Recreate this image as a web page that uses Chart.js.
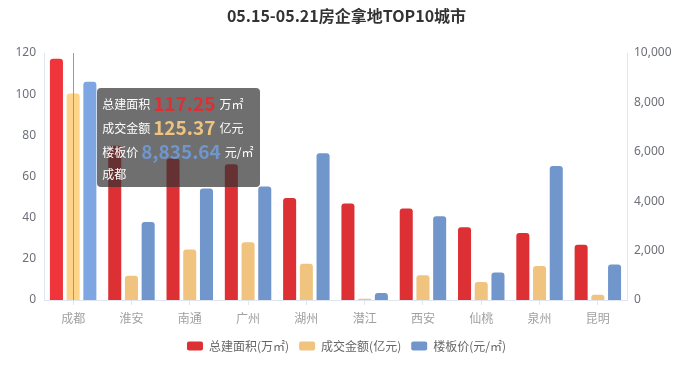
<!DOCTYPE html>
<html>
<head>
<meta charset="utf-8">
<script src="https://cdn.jsdelivr.net/npm/chart.js@4.4.1/dist/chart.umd.min.js"></script>
<style>
  html, body { margin: 0; padding: 0; background: #fff; }
  #wrap { position: relative; width: 693px; height: 366px; }
  #tip {
    position: absolute; z-index: 10; pointer-events: none; opacity: 0;
    background: rgba(50, 50, 50, 0.7); border-radius: 4px;
    color: #fff; font-family: "Noto Sans CJK SC", sans-serif; font-size: 12px;
    padding: 3px 6px 4px 5px; white-space: nowrap;
  }
  #tip .row { display: flex; align-items: center; height: 24px; overflow: visible; }
  #tip .row.last { height: 20px; }
  #tip b { font-size: 19px; font-weight: bold; margin: 0 4px 0 3px; line-height: 24px; }
</style>
</head>
<body>
<div id="wrap">
  <canvas id="chart" width="693" height="366"></canvas>
  <div id="tip"></div>
</div>
<script>
const cities = ['成都', '淮安', '南通', '广州', '湖州', '潜江', '西安', '仙桃', '泉州', '昆明'];
// 总建面积 (万㎡)
const area = [117.25, 74.9, 68.8, 66.0, 49.6, 46.9, 44.4, 35.3, 32.5, 26.8];
// 成交金额 (亿元)
const amount = [125.37, 14.7, 30.6, 35.1, 22.0, 0.8, 15.1, 11.0, 20.6, 3.2];
// 楼板价 (元/㎡)
const price = [8835.64, 3155, 4518, 4600, 5946, 286, 3388, 1115, 5429, 1442];

const leftTicks = [0, 20, 40, 60, 80, 100, 120];
const rightTicks = [0, 2000, 4000, 6000, 8000, 10000];

const RED = '#dc3035', ORANGE = '#f0c47f', BLUE = '#7196cc';
const fmt2 = v => v.toLocaleString('en-US', { minimumFractionDigits: 2, maximumFractionDigits: 2 });

// vertical axis pointer on the active category
const pointerLine = {
  id: 'pointerLine',
  afterDatasetsDraw(chart) {
    const act = chart.getActiveElements();
    if (!act.length) return;
    const x = Math.round(chart.scales.x.getPixelForValue(act[0].index)) + 0.5;
    const ctx = chart.ctx;
    ctx.save();
    ctx.strokeStyle = '#9a9a9a';
    ctx.lineWidth = 1;
    ctx.beginPath();
    ctx.moveTo(x, chart.chartArea.top);
    ctx.lineTo(x, chart.chartArea.bottom);
    ctx.stroke();
    ctx.restore();
  }
};

function externalTip(context) {
  const { chart, tooltip } = context;
  const el = document.getElementById('tip');
  if (tooltip.opacity === 0 || !tooltip.dataPoints || !tooltip.dataPoints.length) {
    el.style.opacity = 0;
    return;
  }
  const i = tooltip.dataPoints[0].dataIndex;
  el.innerHTML =
    '<div class="row">总建面积<b style="color:' + RED + '">' + fmt2(area[i]) + '</b>万㎡</div>' +
    '<div class="row">成交金额<b style="color:' + ORANGE + '">' + fmt2(amount[i]) + '</b>亿元</div>' +
    '<div class="row">楼板价<b style="color:' + BLUE + '">' + fmt2(price[i]) + '</b>元/㎡</div>' +
    '<div class="row last">' + cities[i] + '</div>';
  el.style.left = (chart.scales.x.getPixelForValue(i) + 24) + 'px';
  el.style.top = (chart.chartArea.top + 35) + 'px';
  el.style.opacity = 1;
}

const barStyle = {
  borderRadius: { topLeft: 3, topRight: 3 },
  borderSkipped: 'start',
  barPercentage: 0.78,
  categoryPercentage: 0.86
};

const chart = new Chart(document.getElementById('chart'), {
  type: 'bar',
  data: {
    labels: cities,
    datasets: [
      Object.assign({ label: '总建面积(万㎡)', data: area, yAxisID: 'y',
        backgroundColor: RED, hoverBackgroundColor: '#f0343b' }, barStyle),
      Object.assign({ label: '成交金额(亿元)', data: amount, yAxisID: 'y3',
        backgroundColor: ORANGE, hoverBackgroundColor: '#fdd488' }, barStyle),
      Object.assign({ label: '楼板价(元/㎡)', data: price, yAxisID: 'y2',
        backgroundColor: BLUE, hoverBackgroundColor: '#7ea6e2' }, barStyle)
    ]
  },
  options: {
    responsive: false,
    animation: false,
    events: [],
    layout: { padding: { left: 0, right: 0, top: 0, bottom: 4 } },
    plugins: {
      title: {
        display: true,
        text: '05.15-05.21房企拿地TOP10城市',
        color: '#333',
        font: { family: '"Noto Sans CJK SC", sans-serif', size: 16, weight: 'bold' },
        padding: { top: 6, bottom: 27.8 }
      },
      legend: {
        position: 'bottom',
        labels: {
          boxWidth: 16, boxHeight: 9, useBorderRadius: true, borderRadius: 2,
          padding: 10, color: '#666',
          font: { family: '"Noto Sans CJK SC", sans-serif', size: 12 }
        }
      },
      tooltip: { enabled: false, mode: 'index', external: externalTip }
    },
    scales: {
      x: {
        grid: { display: true, drawOnChartArea: false, offset: false, tickLength: 5, color: '#e0e6f1' },
        border: { color: '#e0e6f1' },
        ticks: { color: '#a0a0a0', padding: 6, font: { family: '"Noto Sans CJK SC", sans-serif', size: 12 } },
        afterFit: s => { s.height = 30; }
      },
      y: {
        position: 'left', min: 0, max: 120,
        afterBuildTicks: s => { s.ticks = leftTicks.map(v => ({ value: v })); },
        grid: { display: false, drawTicks: false },
        border: { display: true, color: '#e0e6f1' },
        ticks: { color: '#6e7079', padding: 8, font: { family: '"Noto Sans", sans-serif', size: 12 } },
        afterFit: s => { s.width = 44; }
      },
      y2: {
        position: 'right', min: 0, max: 10000,
        afterBuildTicks: s => { s.ticks = rightTicks.map(v => ({ value: v })); },
        grid: { display: false, drawTicks: false },
        border: { display: true, color: '#e0e6f1' },
        ticks: { color: '#6e7079', padding: 7, font: { family: '"Noto Sans", sans-serif', size: 12 },
          callback: v => v.toLocaleString('en-US') },
        afterFit: s => { s.width = 66; }
      },
      y3: { display: false, min: 0, max: 150 }
    }
  },
  plugins: [pointerLine]
});

const active = [0, 1, 2].map(d => ({ datasetIndex: d, index: 0 }));
chart.setActiveElements(active);
chart.tooltip.setActiveElements(active, { x: chart.scales.x.getPixelForValue(0), y: 150 });
chart.update();
</script>
</body>
</html>
